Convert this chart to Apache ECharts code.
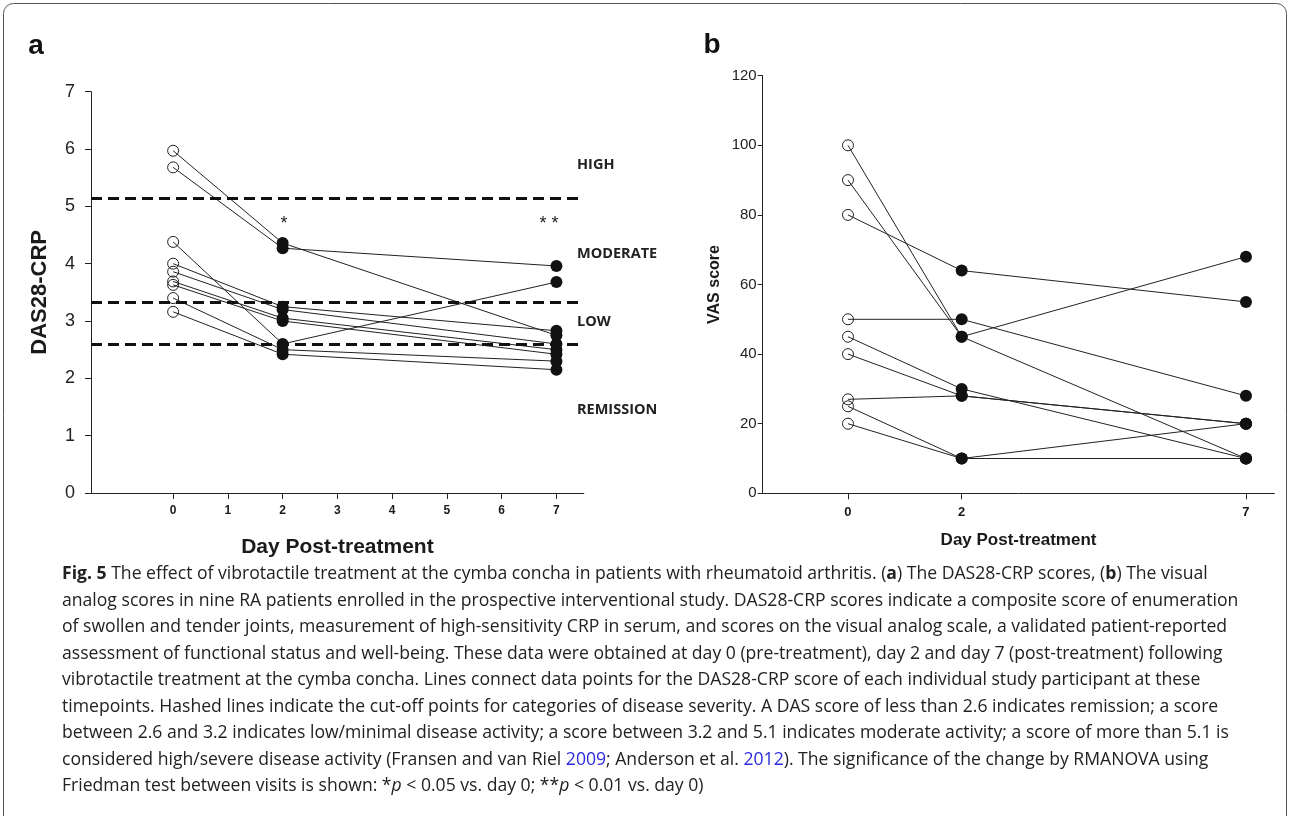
<!DOCTYPE html>
<html><head><meta charset="utf-8">
<script src="https://cdn.jsdelivr.net/npm/echarts@6/dist/echarts.min.js"></script>
<style>html,body{margin:0;padding:0;background:#fff}#c{width:1290px;height:816px}</style>
</head><body><div id="c"></div>
<script>
// ---- Panel a: DAS28-CRP per patient (day 0, day 2, day 7)
const dasDayTicks = [0, 1, 2, 3, 4, 5, 6, 7];
const dasDay0 = [5.97, 5.68, 4.38, 4.00, 3.86, 3.69, 3.63, 3.40, 3.16];
const dasDay2 = [4.36, 4.27, 2.60, 3.25, 3.20, 3.05, 3.00, 2.50, 2.42];
const dasDay7 = [2.75, 3.96, 3.68, 2.83, 2.60, 2.50, 2.42, 2.30, 2.15];
const dasCutoffs = [5.15, 3.32, 2.60];
const dasZones = ['HIGH', 'MODERATE', 'LOW', 'REMISSION'];
// ---- Panel b: VAS score per patient
const vasDayTicks = [0, 2, 7];
const vasDay0 = [100, 90, 80, 50, 45, 40, 27, 25, 20];
const vasDay2 = [45, 45, 64, 50, 30, 28, 28, 10, 10];
const vasDay7 = [10, 68, 55, 28, 10, 20, 20, 20, 10];

const captionLines = [
 '{b|Fig. 5} The effect of vibrotactile treatment at the cymba concha in patients with rheumatoid arthritis. ({b|a}) The DAS28-CRP scores, ({b|b}) The visual',
 'analog scores in nine RA patients enrolled in the prospective interventional study. DAS28-CRP scores indicate a composite score of enumeration',
 'of swollen and tender joints, measurement of high-sensitivity CRP in serum, and scores on the visual analog scale, a validated patient-reported',
 'assessment of functional status and well-being. These data were obtained at day 0 (pre-treatment), day 2 and day 7 (post-treatment) following',
 'vibrotactile treatment at the cymba concha. Lines connect data points for the DAS28-CRP score of each individual study participant at these',
 'timepoints. Hashed lines indicate the cut-off points for categories of disease severity. A DAS score of less than 2.6 indicates remission; a score',
 'between 2.6 and 3.2 indicates low/minimal disease activity; a score between 3.2 and 5.1 indicates moderate activity; a score of more than 5.1 is',
 'considered high/severe disease activity (Fransen and van Riel {l|2009}; Anderson et al. {l|2012}). The significance of the change by RMANOVA using',
 'Friedman test between visits is shown: *{i|p} < 0.05 vs. day 0; **{i|p} < 0.01 vs. day 0)'
];

const AX = 'Liberation Sans';
const CAP = 'Open Sans';
const CS = 17.6;
const ink = '#1a1a1a';

function patientLines(d0, d2, d7, ax) {
  return d0.map((v, i) => ({
    type: 'line', xAxisIndex: ax, yAxisIndex: ax, silent: true, showSymbol: false,
    lineStyle: { color: '#222', width: 1 }, z: 2,
    data: [[0, v], [2, d2[i]], [7, d7[i]]]
  }));
}

const series = [].concat(
  patientLines(dasDay0, dasDay2, dasDay7, 0),
  patientLines(vasDay0, vasDay2, vasDay7, 1),
  [
    { type: 'scatter', xAxisIndex: 0, yAxisIndex: 0, silent: true, symbolSize: 11, z: 3,
      itemStyle: { color: 'rgba(0,0,0,0)', borderColor: '#222', borderWidth: 1, opacity: 1 },
      data: dasDay0.map(v => [0, v]),
      markLine: { silent: true, symbol: ['none', 'none'], label: { show: false },
        lineStyle: { color: '#111', width: 3, type: [11, 6] },
        data: dasCutoffs.map(v => ({ yAxis: v })) } },
    { type: 'scatter', xAxisIndex: 0, yAxisIndex: 0, silent: true, symbolSize: 12, z: 3,
      itemStyle: { color: '#111', opacity: 1 },
      data: dasDay2.map(v => [2, v]).concat(dasDay7.map(v => [7, v])) },
    { type: 'scatter', xAxisIndex: 1, yAxisIndex: 1, silent: true, symbolSize: 11, z: 3,
      itemStyle: { color: 'rgba(0,0,0,0)', borderColor: '#222', borderWidth: 1, opacity: 1 },
      data: vasDay0.map(v => [0, v]) },
    { type: 'scatter', xAxisIndex: 1, yAxisIndex: 1, silent: true, symbolSize: 12, z: 3,
      itemStyle: { color: '#111', opacity: 1 },
      data: vasDay2.map(v => [2, v]).concat(vasDay7.map(v => [7, v])) }
  ]
);

const axLine = { show: true, onZero: false, lineStyle: { color: '#222', width: 1 } };
const zoneFont = 'bold 14.5px "Open Sans"';

const graphic = [
  { type: 'rect', shape: { x: 3.5, y: 3.5, width: 1283, height: 860, r: 10 },
    style: { fill: 'none', stroke: '#555', lineWidth: 1 }, silent: true },
  { type: 'text', x: 36, y: 46, style: { text: 'a', font: 'bold 28px "Liberation Sans"', fill: '#111', align: 'center', verticalAlign: 'middle' } },
  { type: 'text', x: 712, y: 45, style: { text: 'b', font: 'bold 28px "Liberation Sans"', fill: '#111', align: 'center', verticalAlign: 'middle' } },
  { type: 'text', x: 577, y: 165, style: { text: dasZones[0], font: zoneFont, fill: '#222', verticalAlign: 'middle' } },
  { type: 'text', x: 577, y: 254, style: { text: dasZones[1], font: zoneFont, fill: '#222', verticalAlign: 'middle' } },
  { type: 'text', x: 577, y: 322, style: { text: dasZones[2], font: zoneFont, fill: '#222', verticalAlign: 'middle' } },
  { type: 'text', x: 577, y: 410, style: { text: dasZones[3], font: zoneFont, fill: '#222', verticalAlign: 'middle' } },
  { type: 'text', x: 284, y: 224, style: { text: '*', font: '18px "Liberation Sans"', fill: '#222', align: 'center', verticalAlign: 'middle' } },
  { type: 'text', x: 549, y: 224, style: { text: '* *', font: '18px "Liberation Sans"', fill: '#222', align: 'center', verticalAlign: 'middle' } }
];
captionLines.forEach((t, i) => {
  graphic.push({ type: 'text', x: 62, y: 574 + i * 26.5, silent: true,
    style: { text: t, fontFamily: CAP, fontSize: CS, fill: '#222', verticalAlign: 'middle',
      rich: {
        b: { fontFamily: CAP, fontSize: CS, fontWeight: 'bold', fill: '#222' },
        l: { fontFamily: CAP, fontSize: CS, fill: '#2a2ae0' },
        i: { fontFamily: CAP, fontSize: CS, fontStyle: 'italic', fill: '#222' }
      } } });
});

const option = {
  animation: false,
  backgroundColor: '#fff',
  grid: [
    { left: 91, top: 91.7, width: 492.8, height: 401.3 },
    { left: 762.7, top: 75.7, width: 511.7, height: 417.6 }
  ],
  xAxis: [
    { type: 'value', gridIndex: 0, min: -1.5, max: 7.5, axisLine: axLine,
      axisTick: { show: true, customValues: dasDayTicks, length: 6, lineStyle: { color: '#222' } },
      axisLabel: { customValues: dasDayTicks, fontFamily: AX, fontWeight: 'bold', fontSize: 12, color: ink, margin: 12 },
      splitLine: { show: false },
      name: 'Day Post-treatment', nameLocation: 'middle', nameGap: 44,
      nameTextStyle: { fontFamily: AX, fontWeight: 'bold', fontSize: 21, color: ink } },
    { type: 'value', gridIndex: 1, min: -1.5, max: 7.5, axisLine: axLine,
      axisTick: { show: true, customValues: vasDayTicks, length: 6, lineStyle: { color: '#222' } },
      axisLabel: { customValues: vasDayTicks, fontFamily: AX, fontWeight: 'bold', fontSize: 13, color: ink, margin: 13 },
      splitLine: { show: false },
      name: 'Day Post-treatment', nameLocation: 'middle', nameGap: 39,
      nameTextStyle: { fontFamily: AX, fontWeight: 'bold', fontSize: 17, color: ink } }
  ],
  yAxis: [
    { type: 'value', gridIndex: 0, min: 0, max: 7, interval: 1, axisLine: axLine,
      axisTick: { show: true, length: 6, lineStyle: { color: '#222' } },
      axisLabel: { fontFamily: AX, fontSize: 18, color: '#222', margin: 16 },
      splitLine: { show: false },
      name: 'DAS28-CRP', nameLocation: 'middle', nameGap: 40,
      nameTextStyle: { fontFamily: AX, fontWeight: 'bold', fontSize: 22, color: ink } },
    { type: 'value', gridIndex: 1, min: 0, max: 120, interval: 20, axisLine: axLine,
      axisTick: { show: true, length: 5, lineStyle: { color: '#222' } },
      axisLabel: { fontFamily: AX, fontSize: 15, color: '#222', margin: 6 },
      splitLine: { show: false },
      name: 'VAS score', nameLocation: 'middle', nameGap: 40,
      nameTextStyle: { fontFamily: AX, fontWeight: 'bold', fontSize: 16, color: ink } }
  ],
  graphic: graphic,
  series: series
};
const chart = echarts.init(document.getElementById('c'), null, { renderer: 'canvas' });
chart.setOption(option);
</script></body></html>
